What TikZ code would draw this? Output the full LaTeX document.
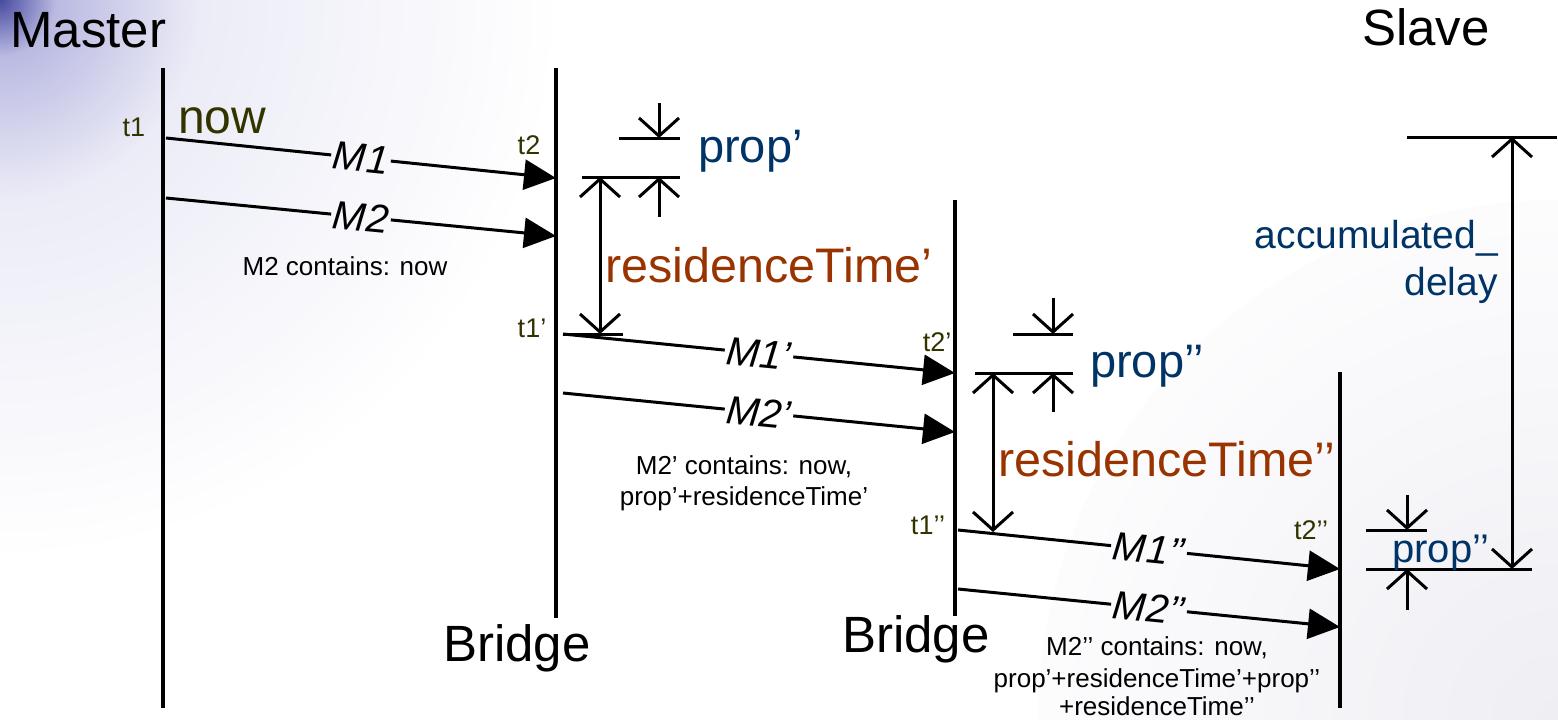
\documentclass[tikz,border=0pt]{standalone}
\usepackage{fontspec}
\setmainfont{Liberation Sans}
\usetikzlibrary{arrows.meta}

\definecolor{tickcol}{RGB}{51,51,0}
\definecolor{propcol}{RGB}{0,51,102}
\definecolor{rescol}{RGB}{153,51,0}
\definecolor{glowA}{RGB}{72,74,160}
\definecolor{glowB}{RGB}{186,186,226}
\definecolor{glowC}{RGB}{236,236,247}
\definecolor{greyA}{RGB}{238,238,243}
\definecolor{greyB}{RGB}{247,247,250}

\newcommand\straightq{\symbol{39}}

\pgfdeclareradialshading{cornerglow}{\pgfpoint{0bp}{0bp}}{%
  color(0bp)=(glowA); color(2.5bp)=(glowB); color(9bp)=(glowC);
  color(25bp)=(white); color(50bp)=(white)}
\pgfdeclareradialshading{cornergrey}{\pgfpoint{0bp}{0bp}}{%
  color(0bp)=(greyA); color(15bp)=(greyB); color(30bp)=(white); color(50bp)=(white)}

\tikzset{
  fsz/.style={font=\fontsize{#1}{#1}\selectfont},
  lifeline/.style={line width=3.5pt},
  msg/.style={line width=3pt, -{Triangle[length=32pt,width=30pt]}},
  plain/.style={line width=3pt},
  dimtip/.style={line width=3pt, -{Straight Barb[length=18pt,width=40pt]}},
  dimboth/.style={line width=3pt, {Straight Barb[length=18pt,width=40pt]}-{Straight Barb[length=18pt,width=40pt]}},
  msglbl/.style={font=\fontsize{40}{40}\selectfont\itshape, sloped, inner sep=2pt},
  title/.style={fsz=51, inner sep=0pt, anchor=base west},
  tick/.style={fsz=27, text=tickcol, inner sep=0pt},
  note/.style={fsz=26, inner sep=0pt, anchor=base},
  proplbl/.style={fsz=47, text=propcol, inner sep=0pt, anchor=base west},
  reslbl/.style={fsz=48.5, text=rescol, inner sep=0pt, anchor=base west},
}

\begin{document}
\begin{tikzpicture}[x=1pt,y=-1pt]
\useasboundingbox (0,0) rectangle (1558,720);

% slide background
\begin{scope}
  \clip (0,0) rectangle (1558,720);
  \fill[white] (0,0) rectangle (1558,720);
  \shade[shading=cornergrey] (1558,720) circle (520);
  \shade[shading=cornerglow] (0,0) circle (560);
\end{scope}

% lifelines
\coordinate (mT) at (163,68);   \coordinate (mB) at (163,708);
\coordinate (b1T) at (556,68);  \coordinate (b1B) at (556,618);
\coordinate (b2T) at (955,200); \coordinate (b2B) at (955,616);
\coordinate (sT) at (1340,372); \coordinate (sB) at (1340,708);
\draw[lifeline] (mT) -- (mB);
\draw[lifeline] (b1T) -- (b1B);
\draw[lifeline] (b2T) -- (b2B);
\draw[lifeline] (sT) -- (sB);

\node[title] (master)  at (10,47)   {Master};
\node[title] (slave)   at (1362,45) {Slave};
\node[title] (bridgeA) at (443,661) {Bridge};
\node[title] (bridgeB) at (842,652) {Bridge};

% messages: start and end points
\coordinate (m1s) at (166,138);  \coordinate (m1e) at (556,178);
\coordinate (m2s) at (166,198);  \coordinate (m2e) at (556,236);
\coordinate (n1s) at (563,334);  \coordinate (n1e) at (955,373);
\coordinate (n2s) at (563,393);  \coordinate (n2e) at (955,432);
\coordinate (q1s) at (958,530);  \coordinate (q1e) at (1340,569);
\coordinate (q2s) at (958,589);  \coordinate (q2e) at (1340,627);

\path (m1s) -- node[msglbl] (m1l) {M1} (m1e);
\path (m2s) -- node[msglbl] (m2l) {M2} (m2e);
\path (n1s) -- node[msglbl] (n1l) {M1\straightq} (n1e);
\path (n2s) -- node[msglbl] (n2l) {M2\straightq} (n2e);
\path (q1s) -- node[msglbl] (q1l) {M1’’} (q1e);
\path (q2s) -- node[msglbl] (q2l) {M2’’} (q2e);

\draw[plain] (m1s) -- (m1l);  \draw[msg] (m1l) -- (m1e);
\draw[plain] (m2s) -- (m2l);  \draw[msg] (m2l) -- (m2e);
\draw[plain] (n1s) -- (n1l);  \draw[msg] (n1l) -- (n1e);
\draw[plain] (n2s) -- (n2l);  \draw[msg] (n2l) -- (n2e);
\draw[plain] (q1s) -- (q1l);  \draw[msg] (q1l) -- (q1e);
\draw[plain] (q2s) -- (q2l);  \draw[msg] (q2l) -- (q2e);

% timestamps
\node[tick] (t1)   at (134,127)  {t1};
\node[tick] (t2)   at (529,145)  {t2};
\node[tick] (t1p)  at (532,328)  {t1\straightq};
\node[tick] (t2p)  at (937,342)  {t2\straightq};
\node[tick] (t1pp) at (928,525)  {t1’’};
\node[tick] (t2pp) at (1311,530) {t2’’};
\node[fsz=48, text=tickcol, inner sep=0pt, anchor=base west] (now) at (178,133) {now};

% message contents
\node[note] (c1)  at (345,275)  {M2 contains: now};
\node[note] (c2a) at (744,474)  {M2\straightq{} contains: now,};
\node[note] (c2b) at (744,505)  {prop’+residenceTime’};
\node[note] (c3a) at (1157,655) {M2\straightq\straightq{} contains: now,};
\node[note] (c3b) at (1157,687) {prop’+residenceTime’+prop’’};
\node[note] (c3c) at (1157,715) {+residenceTime’’};

% first bridge: propagation and residence time
\coordinate (pa1) at (619,138); \coordinate (pa2) at (680,138);
\coordinate (pb1) at (582,177); \coordinate (pb2) at (680,177);
\draw[plain] (pa1) -- (pa2);
\draw[plain] (pb1) -- (pb2);
\coordinate (pu) at (659,103); \coordinate (pu2) at (659,138);
\coordinate (pd) at (659,217); \coordinate (pd2) at (659,177);
\draw[dimtip] (pu) -- (pu2);
\draw[dimtip] (pd) -- (pd2);
\coordinate (ra) at (600,177); \coordinate (rb) at (600,334);
\draw[dimboth] (ra) -- (rb);
\coordinate (rc1) at (563,334); \coordinate (rc2) at (623,334);
\draw[plain] (rc1) -- (rc2);
\node[proplbl] (propA) at (698,162) {prop’};
\node[reslbl] (resA) at (605,282) {residenceTime’};

% second bridge: propagation and residence time
\coordinate (qa1) at (1013,334); \coordinate (qa2) at (1073,334);
\coordinate (qb1) at (975,373);  \coordinate (qb2) at (1073,373);
\draw[plain] (qa1) -- (qa2);
\draw[plain] (qb1) -- (qb2);
\coordinate (qu) at (1053,298); \coordinate (qu2) at (1053,334);
\coordinate (qd) at (1053,412); \coordinate (qd2) at (1053,373);
\draw[dimtip] (qu) -- (qu2);
\draw[dimtip] (qd) -- (qd2);
\coordinate (sa) at (993,373); \coordinate (sb) at (993,532);
\draw[dimboth] (sa) -- (sb);
\node[proplbl] (propB) at (1090,377) {prop’’};
\node[reslbl] (resB) at (998,476) {residenceTime’’};

% slave side: last hop and accumulated delay
\coordinate (ua1) at (1366,530); \coordinate (ua2) at (1427,530);
\coordinate (ub1) at (1366,569); \coordinate (ub2) at (1532,569);
\draw[plain] (ua1) -- (ua2);
\draw[plain] (ub1) -- (ub2);
\coordinate (uu) at (1407,495); \coordinate (uu2) at (1407,530);
\coordinate (ud) at (1407,610); \coordinate (ud2) at (1407,569);
\draw[dimtip] (uu) -- (uu2);
\draw[dimtip] (ud) -- (ud2);
\node[proplbl, fsz=40] (propC) at (1392,562) {prop’’};

\coordinate (acc1) at (1407,137); \coordinate (acc2) at (1557,137);
\draw[plain] (acc1) -- (acc2);
\coordinate (aa) at (1512,137); \coordinate (ab) at (1512,569);
\draw[dimboth] (aa) -- (ab);
\node[fsz=39, text=propcol, inner sep=0pt, anchor=base east] (accA) at (1498,248) {accumulated\_};
\node[fsz=39, text=propcol, inner sep=0pt, anchor=base east] (accB) at (1498,295) {delay};
\end{tikzpicture}
\end{document}
